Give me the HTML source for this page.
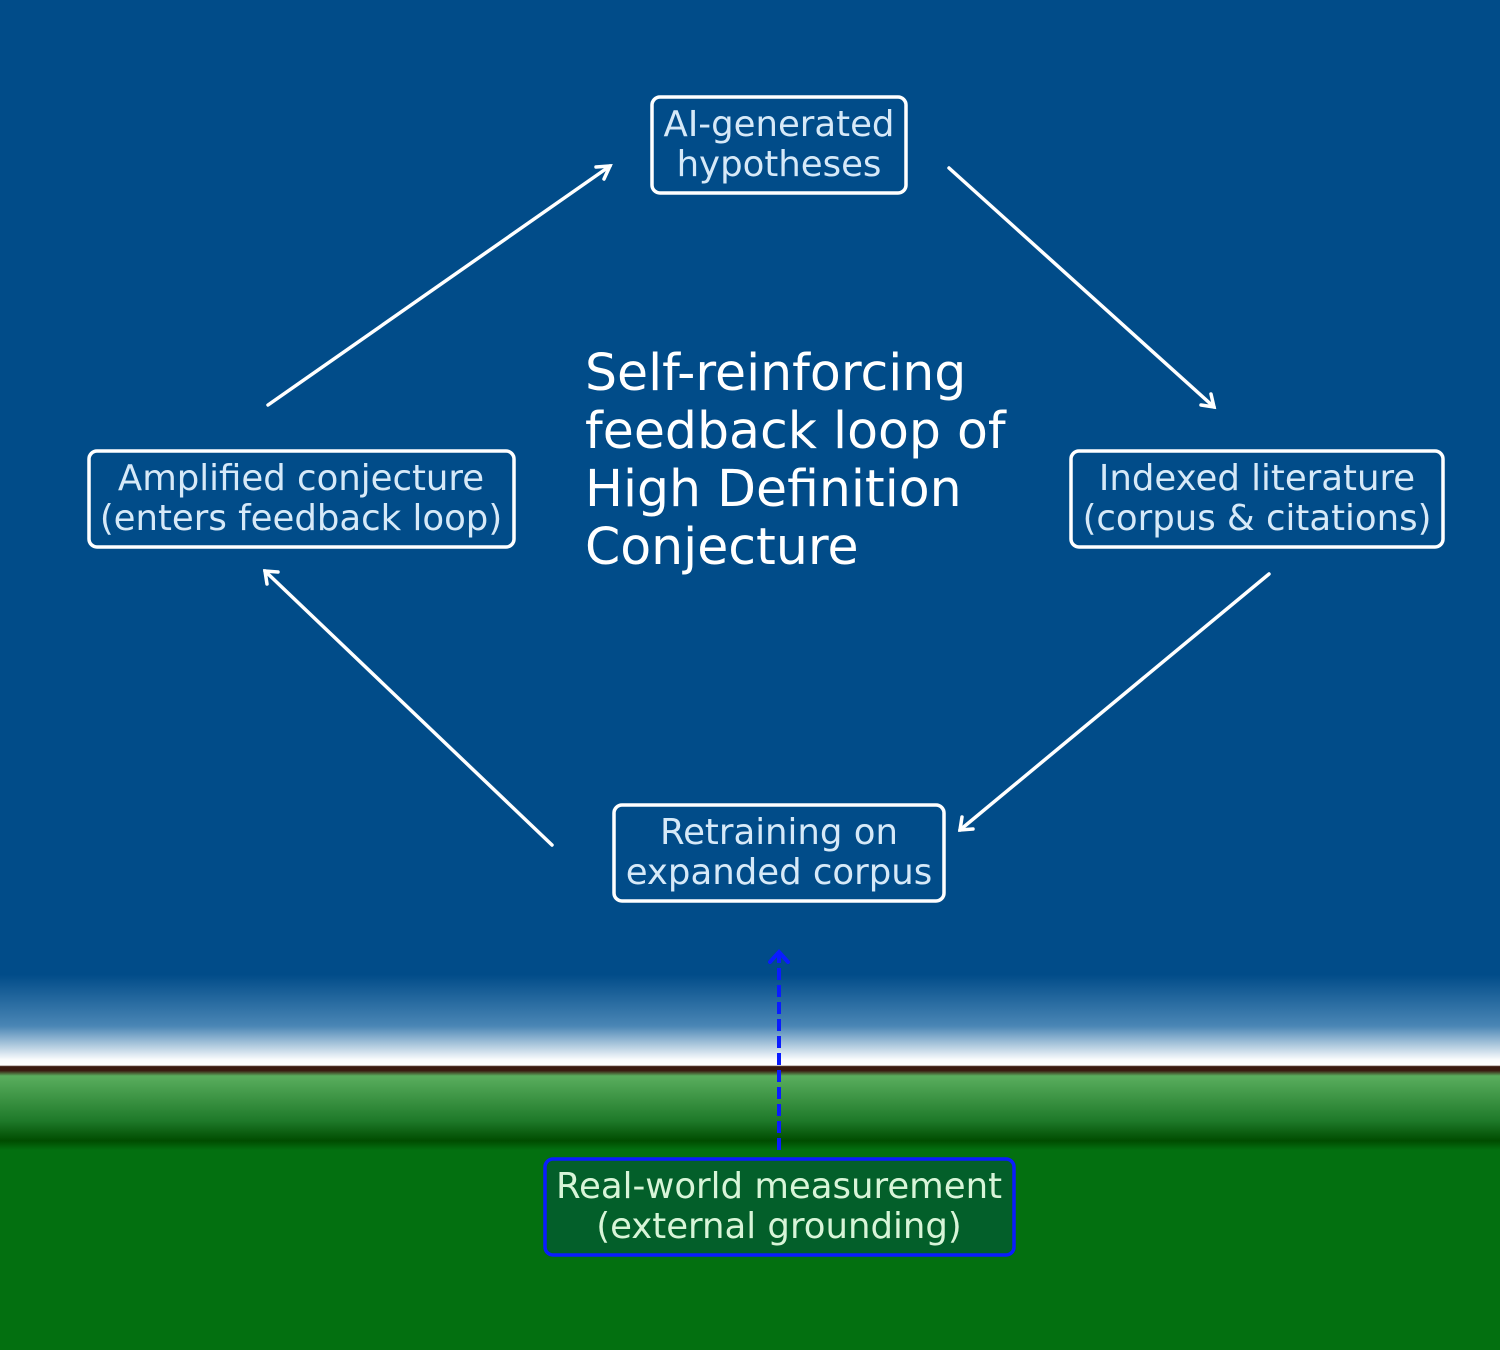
<!DOCTYPE html>
<html><head><meta charset="utf-8"><style>html,body{margin:0;padding:0}svg{display:block}</style></head>
<body>
<svg width="1500" height="1350" xmlns="http://www.w3.org/2000/svg" font-family="DejaVu Sans, sans-serif">
<defs>
<linearGradient id="bg" x1="0" y1="0" x2="0" y2="1350" gradientUnits="userSpaceOnUse">
<stop offset="0" stop-color="#014c89"/>
<stop offset="0.722" stop-color="#014c89"/>
<stop offset="0.76" stop-color="#4a86b5"/>
<stop offset="0.785" stop-color="#fafcfd"/>
<stop offset="0.789" stop-color="#ffffff"/>
<stop offset="0.790" stop-color="#3a1a10"/>
<stop offset="0.793" stop-color="#3a1a10"/>
<stop offset="0.797" stop-color="#5aae5e"/>
<stop offset="0.83" stop-color="#1f7a2a"/>
<stop offset="0.845" stop-color="#004c00"/>
<stop offset="0.852" stop-color="#037010"/>
<stop offset="1" stop-color="#037010"/>
</linearGradient>
</defs>
<rect width="1500" height="1350" fill="url(#bg)"/>
<g stroke="#fff" stroke-width="3.5" fill="none" stroke-linecap="round">
<line x1="268" y1="405" x2="610" y2="166"/><polyline points="596,167 610,166 604,179"/>
<line x1="949" y1="168" x2="1214" y2="407"/><polyline points="1201,405 1214,407 1211,394"/>
<line x1="1269" y1="574" x2="960" y2="830"/><polyline points="962,817 960,830 973,829"/>
<line x1="552" y1="845" x2="265" y2="571"/><polyline points="267,584 265,571 278,572"/>
</g>
<g stroke="#0a1cff" stroke-width="4" fill="none">
<line x1="779" y1="1150" x2="779" y2="955" stroke-dasharray="12,5"/>
<polyline points="770,962 779,952 788,962" stroke-linecap="round"/>
</g>
<g fill="#014c89" stroke="#fff" stroke-width="3.5">
<rect x="652" y="97" width="254" height="96" rx="8"/>
<rect x="89" y="451" width="425" height="96" rx="8"/>
<rect x="1071" y="451" width="372" height="96" rx="8"/>
<rect x="614" y="805" width="330" height="96" rx="8"/>
</g>
<rect x="545" y="1159" width="469" height="96" rx="8" fill="#035f2a" stroke="#0a1cff" stroke-width="3.5"/>
<g font-size="35.5" fill="#d6e9f8" text-anchor="middle">
<text x="779" y="136">AI-generated</text><text x="779" y="176">hypotheses</text>
<text x="301" y="490">Amplified conjecture</text><text x="301" y="530">(enters feedback loop)</text>
<text x="1257" y="490">Indexed literature</text><text x="1257" y="530">(corpus &amp; citations)</text>
<text x="779" y="844">Retraining on</text><text x="779" y="884">expanded corpus</text>
<text x="779" y="1198" fill="#d8f5d8">Real-world measurement</text><text x="779" y="1238" fill="#d8f5d8">(external grounding)</text>
</g>
<g font-size="50.5" fill="#fff">
<text x="585" y="390">Self-reinforcing</text>
<text x="585" y="448">feedback loop of</text>
<text x="585" y="506">High Definition</text>
<text x="585" y="564">Conjecture</text>
</g>
</svg>
</body></html>
